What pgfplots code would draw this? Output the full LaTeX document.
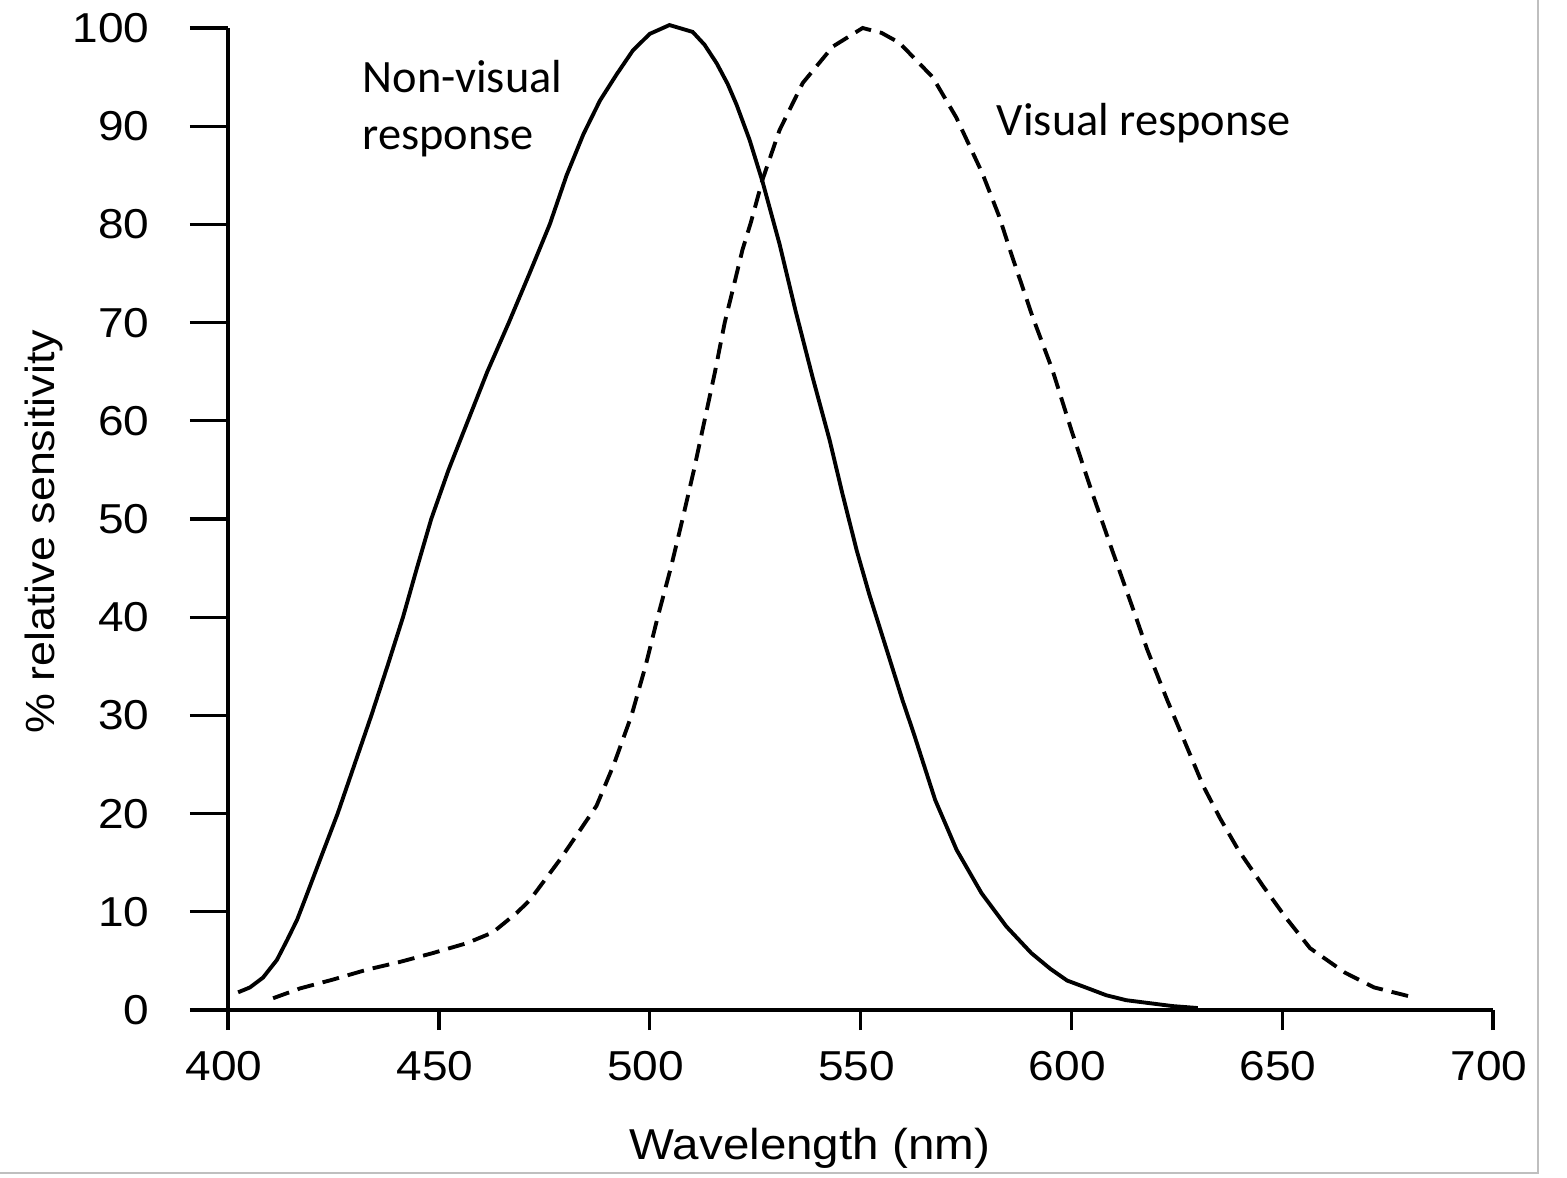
\documentclass[border=0pt]{standalone}
\usepackage{fontspec}
\setmainfont{Liberation Sans}[FakeStretch=1.1]
\newfontfamily\calibri{Carlito}
\usepackage{pgfplots}
\pgfplotsset{compat=1.18}
\pgfplotstableread{
x y
402.4 1.8
405.2 2.3
408.3 3.3
411.6 5.1
414 7.1
416.4 9.2
418.2 11.2
422 15.5
426 20
430 25
434 30
437.8 35
441.5 40
444.8 45
448.2 50
452.3 55
456.9 60
461.5 65
466.6 70
471.5 75
476.3 80
480.3 85
484.3 89.2
488.2 92.6
492.2 95.3
496 97.7
500 99.4
504.7 100.3
510.2 99.6
513 98.3
515.9 96.4
518.5 94.3
520.6 92.2
523.7 88.6
526.8 84.3
530.8 78.0
534.6 71.2
538.6 64.5
542.7 58.0
545.7 52.6
549.1 46.8
552.1 42.3
556.2 36.7
560 31.5
562.6 28.2
565 25
567.7 21.4
572.8 16.3
578.7 11.9
584.6 8.5
590.5 5.8
595 4.2
599 3.0
604 2.2
608.3 1.5
613 1.0
618.5 0.7
624 0.4
630 0.2
}\nonvisual
\pgfplotstableread{
x y
410.7 1.2
417.1 2.2
424.9 3.1
432.9 4.1
440.8 4.9
448.6 5.8
456.6 6.8
462.8 7.9
468.5 9.9
471.6 11.2
478.7 15.3
483 18
487.4 20.8
491.5 25
495.7 30
499 35
501.9 40
505 45
507.8 50
510.5 55
513 60
515.5 65
517.8 70
519.8 73.5
522 77.4
524 80.2
526.8 84.6
530.8 89.6
536.3 94.4
543.4 98.1
550.5 100
555 99.5
559.2 98.5
567.1 95.0
572.7 90.9
578.9 85.2
582.9 80.8
585.6 77.2
590.8 70.6
595.5 65.2
600.2 58.8
605 52.6
609.7 46.8
614.5 41.0
618 36.7
622.7 31.6
627 27.2
631.3 22.8
635.3 19.5
639.6 16.3
645.5 12.6
650.7 9.5
656.6 6.3
664.9 3.8
671.8 2.3
681 1.3
}\visual
\begin{document}
\begin{tikzpicture}
\useasboundingbox (0,0) rectangle (15.67,-11.78);
\draw[black!25, line width=0.6pt] (15.38,0) -- (15.38,-11.73) -- (0,-11.73);
\begin{axis}[
  at={(2.28cm,-10.10cm)}, anchor=south west,
  scale only axis, width=12.65cm, height=9.82cm,
  xmin=400, xmax=700, ymin=0, ymax=100,
  axis x line*=bottom, axis y line*=left,
  axis line style={black, line width=0.95pt},
  tick align=outside,
  major tick length=0.38cm,
  xtick={400,450,...,700}, ytick={0,10,...,100},
  tick style={black, line width=0.95pt},
  xtick style={/pgfplots/major tick length=0.2cm},
  /pgf/number format/assume math mode=true,
  tick label style={font=\fontsize{11.9}{14}\selectfont},
  yticklabel style={xshift=-0.28cm},
  xticklabel style={yshift=0.09cm, xshift=-0.04cm},
  xlabel={Wavelength (nm)},
  ylabel={\% relative sensitivity},
  xlabel style={at={(rel axis cs:0.46,-0.1527)}, anchor=base, font=\fontsize{12.3}{14}\selectfont},
  ylabel style={at={(rel axis cs:-0.1368,0.487)}, anchor=base, font=\fontsize{11.6}{14}\selectfont},
  clip=false,
]
\addplot[black, line width=1.1pt] table[x=x,y=y] {\nonvisual};
\addplot[black, line width=1.1pt, dash pattern=on 0.17cm off 0.09cm] table[x=x,y=y] {\visual};
\node[anchor=base west, font=\calibri\fontsize{13.2}{16}\selectfont, inner sep=0pt] at (axis cs:431.8,93.4) {Non-visual};
\node[anchor=base west, font=\calibri\fontsize{13.2}{16}\selectfont, inner sep=0pt] at (axis cs:431.8,87.6) {response};
\node[anchor=base west, font=\calibri\fontsize{13.2}{16}\selectfont, inner sep=0pt] at (axis cs:582.2,89.1) {Visual response};
\end{axis}
\end{tikzpicture}
\end{document}
